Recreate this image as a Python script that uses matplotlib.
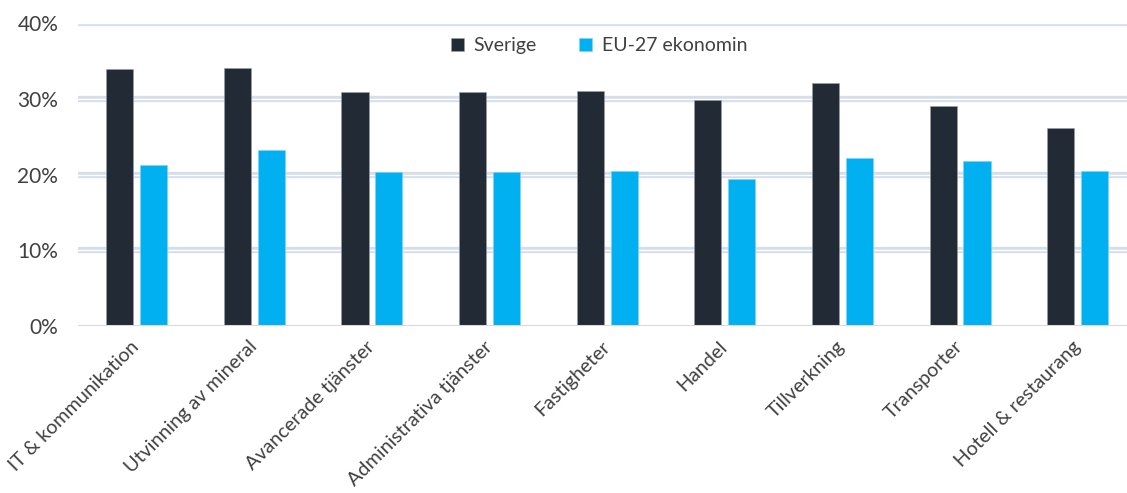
import matplotlib.pyplot as plt
import numpy as np

plt.rcParams['font.family'] = ['Lato', 'DejaVu Sans']

kategorier = ['IT & kommunikation', 'Utvinning av mineral', 'Avancerade tjänster',
              'Administrativa tjänster', 'Fastigheter', 'Handel', 'Tillverkning',
              'Transporter', 'Hotell & restaurang']
sverige = [33.9, 34.1, 30.9, 30.9, 31.1, 29.8, 32.1, 29.0, 26.1]
eu27 = [21.3, 23.3, 20.3, 20.3, 20.5, 19.4, 22.2, 21.8, 20.5]
yticks = [0, 10, 20, 30, 40]

fig = plt.figure(figsize=(11.27, 4.93), dpi=100)
ax = fig.add_axes([0.069, 0.339, 0.931, 0.614])

x = np.arange(len(kategorier))
w = 0.23
ax.bar(x - 0.143, sverige, w, color='#222a35', edgecolor='#9aa0a8', linewidth=0.4,
       label='Sverige', zorder=3)
ax.bar(x + 0.145, eu27, w, color='#00b0f0', edgecolor='#7fd3f5', linewidth=0.4,
       label='EU-27 ekonomin', zorder=3)

# double gridlines: pale band with a thin white stripe through it
for t in yticks[1:]:
    ax.axhline(t, color='#d6deec', lw=4.5, zorder=1)
    ax.axhline(t, color='white', lw=1.0, zorder=1.5)
ax.axhline(0, color='#d9d9d9', lw=1.5, zorder=4)

ax.set_ylim(0, 40)
ax.set_xlim(-0.5, 8.42)
ax.set_yticks(yticks)
ax.set_yticklabels([f'{t}%' for t in yticks], fontsize=15, color='#404040')
ax.set_xticks(x)
ax.set_xticklabels(kategorier, rotation=45, ha='right', va='center',
                   rotation_mode='anchor', fontsize=14.2, color='#404040')
ax.tick_params(axis='both', length=0)
ax.tick_params(axis='x', pad=13)
ax.tick_params(axis='y', pad=14)
for s in ax.spines.values():
    s.set_visible(False)

ax.legend(loc='center', bbox_to_anchor=(0.497, 0.925), ncol=2, frameon=False,
          fontsize=14, labelcolor='#404040', handlelength=0.65, handleheight=0.65,
          handletextpad=0.5, columnspacing=2.2)

fig.savefig('out.png', dpi=100)
